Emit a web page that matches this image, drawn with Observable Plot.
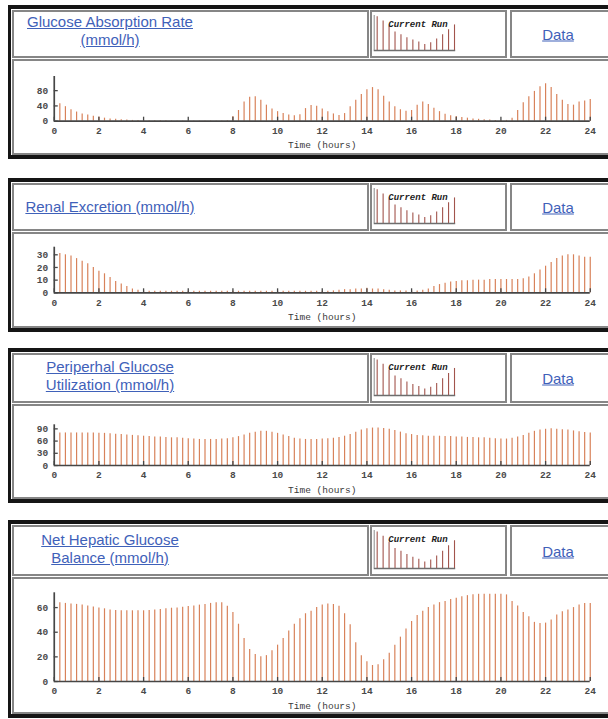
<!DOCTYPE html>
<html>
<head>
<meta charset="utf-8">
<script src="https://cdn.jsdelivr.net/npm/d3@7"></script>
<script src="https://cdn.jsdelivr.net/npm/@observablehq/plot@0.6"></script>
<style>
html{margin:0;padding:0;background:#fff;overflow:hidden;}
body{margin:0;padding:0;background:#fff;position:relative;height:719px;font-family:"Liberation Sans",Arial,sans-serif;}
.panel{position:absolute;left:8px;width:1200px;border:solid #151515;border-width:4px 0 4px 3px;box-sizing:border-box;background:#fff;}
.cell{position:absolute;border:2px solid #868686;box-sizing:border-box;background:#fff;overflow:visible;}
.ttl{position:absolute;left:0;width:192px;top:50%;transform:translateY(-50%);text-align:center;font-size:15px;line-height:18px;color:#3f61b9;}
.ttl span{text-decoration:underline;}
.dat{position:absolute;left:0;width:92px;top:50%;transform:translateY(-50%);text-align:center;font-size:15px;color:#3f61b9;text-decoration:underline;}
</style>
</head>
<body>
<script>
// ---------- data ----------
const xTicks = [0, 2, 4, 6, 8, 10, 12, 14, 16, 18, 20, 22, 24];
const xLabel = "Time (hours)";
const iconLabel = "Current Run";
const dataLabel = "Data";
const iconValues = [100, 88, 72, 55, 47, 38, 31, 25, 18, 23, 34, 47, 62, 76];

const titles = [
  ["Glucose Absorption Rate", "(mmol/h)"],
  ["Renal Excretion (mmol/h)"],
  ["Periperhal Glucose", "Utilization (mmol/h)"],
  ["Net Hepatic Glucose", "Balance (mmol/h)"]
];

// values every 15 minutes, t = 0.25 ... 24
const glucoseAbsorption = [
  46, 38, 30, 24,  19, 16, 13, 11,  8, 6, 5, 4,  3, 2, 2, 1.5,
  1, 1, 1, 1,  0.8, 0.8, 0.8, 0.8,  0.8, 0.8, 0.8, 0.8,  0.8, 0.8, 1, 12,
  28, 50, 63, 64,  55, 42, 32, 25,  20, 16, 14, 17,  33, 41, 39, 32,
  25, 19, 15, 20,  38, 55, 70, 82,  88, 82, 65, 50,  38, 30, 26, 28,
  42, 50, 44, 34,  25, 18, 14, 12,  10, 8, 6, 5,  4, 3, 2, 2,
  2, 8, 28, 48,  64, 78, 90, 98,  88, 70, 55, 44,  42, 50, 53, 57
];
const renalExcretion = [
  31, 30, 29, 27,  25, 23, 20, 17,  15, 12, 9, 7,  5, 3, 2, 1.5,
  1.2, 1.2, 1.2, 1.2,  1.2, 1.2, 1.2, 1.2,  1.2, 1.2, 1.2, 1.2,  1.2, 1.2, 1.2, 1.2,
  1.2, 1.2, 1.2, 1.2,  1.2, 1.2, 1.2, 1.2,  1.2, 1.2, 1.2, 1.2,  1.2, 1.2, 1.2, 1.2,
  1.2, 1.5, 2, 2.5,  2.5, 3, 3, 3.5,  3, 3, 2.5, 2,  1.5, 1.5, 1.5, 1.5,
  1.5, 2, 3, 5,  6.5, 7.5, 8.5, 9,  9.5, 9.5, 10, 10,  10, 10.5, 10.5, 10.5,
  10.5, 10.5, 10.5, 11,  12.5, 15, 18, 21,  24, 27, 29, 30,  30, 29, 28, 28
];
const peripheralUtilization = [
  80, 80, 80, 80,  80, 80, 80, 79,  79, 78, 77, 76,  75, 74, 73, 72,
  71, 70, 70, 69,  68, 68, 67, 66,  65, 64, 64, 64,  64, 65, 66, 68,
  71, 75, 79, 82,  84, 84, 82, 79,  75, 71, 67, 65,  64, 64, 64, 65,
  66, 67, 69, 72,  76, 82, 87, 90,  92, 92, 91, 89,  86, 82, 78, 76,
  74, 73, 72, 72,  72, 71, 71, 70,  70, 69, 69, 68,  68, 67, 66, 65,
  65, 67, 70, 74,  79, 84, 87, 89,  90, 89, 88, 87,  85, 83, 81, 80
];
const hepaticBalance = [
  64, 63.4, 63, 62.6,  62, 61.3, 60.5, 59.7,  59, 58, 57.6, 57.4,  57.4, 57.4, 57.4, 57.4,
  57.6, 58, 58.4, 59,  59.5, 59.7, 60.3, 60.8,  61.3, 62, 62.6, 63.4,  64, 64, 61, 56,
  46.5, 35, 26, 22,  20, 21, 25, 29.5,  35, 41, 46.5, 51,  55, 57, 60, 62,
  63, 62.5, 61, 55,  46, 31.5, 21, 16,  13, 13.5, 17.6, 23,  29.5, 36, 42.6, 48.7,
  53.5, 57, 60, 62,  64, 65, 66.5, 67.6,  68.7, 69.7, 70.5, 70.8,  70.8, 70.8, 70.8, 70.8,
  70.3, 65, 61.3, 56,  52.6, 48, 47, 47.4,  50, 54, 56.6, 58,  60, 62, 63.4, 63.4
];

const series = [glucoseAbsorption, renalExcretion, peripheralUtilization, hepaticBalance];
const yMax = [117, 36, 100, 72];
const yTicks = [[0, 40, 80], [0, 10, 20, 30], [0, 30, 60, 90], [0, 20, 40, 60]];

// ---------- layout (styles) ----------
const layout = [
  {top: 5,   hh: 48, ch: 96,  mt: 15,   mb: 32.3, tShift: -3},
  {top: 178, hh: 48, ch: 96,  mt: 12.7, mb: 33.7, tShift: 0},
  {top: 348, hh: 50, ch: 95,  mt: 18.3, mb: 32,   tShift: -2},
  {top: 520, hh: 51, ch: 137, mt: 13.3, mb: 31,   tShift: -2}
];
const barColor = "#d8825a";
const axisColor = "#464646";

function mainChart(values, ymax, yt, h, mt, mb) {
  const data = values.map((v, i) => ({t: (i + 1) / 4, v}));
  return Plot.plot({
    width: 600, height: h,
    marginLeft: 39.75, marginRight: 24.25, marginTop: mt, marginBottom: mb,
    style: {fontFamily: "'Liberation Mono', 'DejaVu Sans Mono', monospace", fontSize: "9.5px", fontWeight: "bold", color: "#4a4a4a", background: "transparent", overflow: "visible"},
    x: {domain: [0, 24]},
    y: {domain: [0, ymax]},
    marks: [
      Plot.ruleX(data, {x: "t", y1: 0, y2: "v", stroke: barColor, strokeWidth: 1.2}),
      Plot.ruleY([0], {stroke: axisColor, strokeWidth: 1.7}),
      Plot.ruleX([0], {y1: 0, y2: ymax, stroke: axisColor, strokeWidth: 1.7}),
      Plot.ruleX(xTicks, {x: d => d, y1: 0, y2: 0, insetBottom: 4, stroke: axisColor, strokeWidth: 1.3}),
      Plot.ruleY(yt, {y: d => d, x1: 0, x2: 0, insetRight: -4, stroke: axisColor, strokeWidth: 1.3}),
      Plot.axisX({ticks: xTicks, tickSize: 0, tickPadding: 6, label: null, tickFormat: d => String(d)}),
      Plot.axisY({ticks: yt, tickSize: 0, tickPadding: 6, label: null, tickFormat: d => String(d)}),
      Plot.text([xLabel], {frameAnchor: "bottom", dy: 27, fill: "#3a3a3a", fontWeight: "normal"})
    ]
  });
}

function iconChart(h) {
  const data = iconValues.map((v, i) => ({i: i + 1, v}));
  return Plot.plot({
    width: 84, height: h,
    marginLeft: 0.7, marginRight: 1.8, marginTop: 1, marginBottom: 1,
    style: {background: "transparent", overflow: "visible"},
    x: {domain: [0.5, 14.2], axis: null},
    y: {domain: [0, 104], axis: null},
    marks: [
      Plot.ruleX(data, {x: "i", y1: 0, y2: "v", stroke: "#a2544c", strokeWidth: 1.1}),
      Plot.ruleY([0], {stroke: "#6e6e6e", strokeWidth: 1.3}),
      Plot.ruleX([0.5], {y1: 0, y2: 104, stroke: "#8a8a8a", strokeWidth: 1}),
      Plot.text([iconLabel], {frameAnchor: "top", dx: 3, dy: 5, fontFamily: "'Liberation Mono', monospace", fontSize: 9, fontWeight: "bold", fontStyle: "italic", fill: "#222"})
    ]
  });
}

layout.forEach((L, k) => {
  const panel = document.createElement("div");
  panel.className = "panel";
  panel.style.top = L.top + "px";
  panel.style.height = (4 + 1 + L.hh + 1 + L.ch + 4) + "px";

  const tCell = document.createElement("div");
  tCell.className = "cell";
  Object.assign(tCell.style, {left: "1px", top: "1px", width: "357px", height: L.hh + "px"});
  const ttl = document.createElement("div");
  ttl.className = "ttl";
  ttl.style.marginTop = L.tShift + "px";
  titles[k].forEach((line, j) => {
    if (j) ttl.appendChild(document.createElement("br"));
    const s = document.createElement("span");
    s.textContent = line;
    ttl.appendChild(s);
  });
  tCell.appendChild(ttl);

  const iCell = document.createElement("div");
  iCell.className = "cell";
  Object.assign(iCell.style, {left: "359px", top: "1px", width: "137px", height: L.hh + "px"});
  const ic = iconChart(L.hh - 11);
  ic.style.position = "absolute";
  ic.style.left = "1px";
  ic.style.top = "2px";
  iCell.appendChild(ic);

  const dCell = document.createElement("div");
  dCell.className = "cell";
  Object.assign(dCell.style, {left: "499px", top: "1px", width: "600px", height: L.hh + "px"});
  const dat = document.createElement("div");
  dat.className = "dat";
  dat.textContent = dataLabel;
  dCell.appendChild(dat);

  const cCell = document.createElement("div");
  cCell.className = "cell";
  Object.assign(cCell.style, {left: "1px", top: (L.hh + 2) + "px", width: "1100px", height: L.ch + "px"});
  const mc = mainChart(series[k], yMax[k], yTicks[k], L.ch - 4, L.mt, L.mb);
  mc.style.position = "absolute";
  mc.style.left = "0px";
  mc.style.top = "0px";
  cCell.appendChild(mc);

  panel.append(tCell, iCell, dCell, cCell);
  document.body.appendChild(panel);
});
</script>
</body>
</html>
